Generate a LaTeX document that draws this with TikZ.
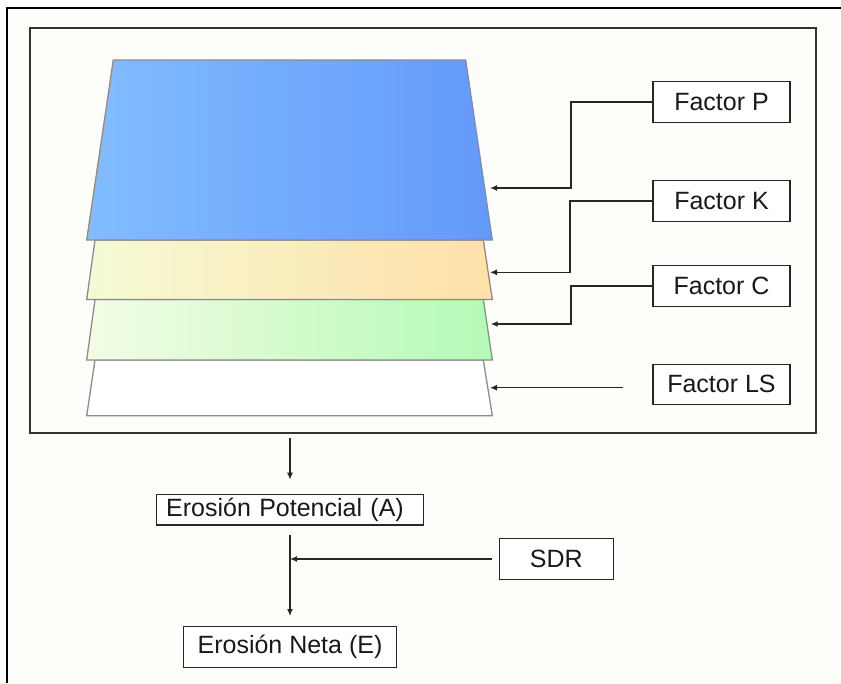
\documentclass[tikz,border=0pt]{standalone}
\usepackage{fontspec}
\setmainfont{Liberation Sans}
\usetikzlibrary{arrows.meta}
\definecolor{cream}{RGB}{253,253,249}
\definecolor{blueL}{RGB}{130,188,255}
\definecolor{blueR}{RGB}{100,153,250}
\definecolor{orangeL}{RGB}{245,250,212}
\definecolor{orangeR}{RGB}{255,224,168}
\definecolor{greenL}{RGB}{243,252,228}
\definecolor{greenR}{RGB}{180,250,182}

\begin{document}
\begin{tikzpicture}[x=1pt,y=-1pt,
    factor/.style={draw=black!85,line width=1.3pt,fill=white,text=black!90,
      font=\fontsize{25}{28}\selectfont,inner sep=0pt},
    layer/.style={draw=black!45,line width=1.3pt},
    conn/.style={draw=black!85,line width=1.3pt,-{Latex[length=7pt,width=6pt]}}]
    \useasboundingbox (0,0) rectangle (841,683);
    \fill[cream] (7,7.5) rectangle (841,683);
    \draw[line width=2pt] (841,7.5) -- (7,7.5) -- (7,683);

    %Frame round the stack
    \node[draw=black!80,line width=1.5pt,minimum width=786pt,minimum height=405pt,inner sep=0pt]
      (stack) at (423,230.5) {};

    %Layers, bottom first
    \path[layer,fill=white] (86.7,415.7) -- (95,360) -- (483.3,360) -- (492.3,415.7) -- cycle;
    \path[layer,left color=greenL,right color=greenR] (86.7,360) -- (95,299.5) -- (483.3,299.5) -- (492.3,360) -- cycle;
    \path[layer,left color=orangeL,right color=orangeR] (86.7,299.5) -- (95,240) -- (483.3,240) -- (492.3,299.5) -- cycle;
    \path[layer,left color=blueL,right color=blueR] (86.7,240) -- (113.3,60) -- (465.7,60) -- (492.3,240) -- cycle;

    \coordinate (pIn) at (490,188);
    \coordinate (kIn) at (490,272.3);
    \coordinate (cIn) at (490.7,324);
    \coordinate (lsIn) at (490,387.7);

    %Factors
    \node[factor,minimum width=137pt,minimum height=40.5pt] (fp) at (721.5,102) {Factor P};
    \node[factor,minimum width=137pt,minimum height=40.5pt] (fk) at (721.5,201) {Factor K};
    \node[factor,minimum width=137pt,minimum height=40.5pt] (fc) at (721.5,286) {Factor C};
    \node[factor,minimum width=137pt,minimum height=40pt] (fls) at (721.5,384.2) {Factor LS};

    \draw[conn] (fp.west) -- (571,102) |- (pIn);
    \draw[conn] (fk.west) -- (570,201) |- (kIn);
    \draw[conn] (fc.west) -- (571,286) |- (cIn);
    \draw[conn] ([xshift=-29pt]fls.west |- lsIn) -- (lsIn);

    %Results
    \node[factor,minimum width=267.6pt,minimum height=30.7pt,inner xsep=10pt,
      text width=247.6pt,align=left] (ep) at (290,509.7) {Erosión Potencial (A)};
    \node[factor,minimum width=114pt,minimum height=41pt] (sdr) at (556.3,559) {SDR};
    \node[factor,minimum width=212.4pt,minimum height=40.6pt] (en) at (290,647) {Erosión Neta (E)};

    \draw[conn,shorten <=4pt,shorten >=14pt] (ep.north |- stack.south) -- (ep.north);
    \draw[conn,shorten <=9pt,shorten >=10pt] (ep.south) -- (en.north);
    \draw[conn,shorten <=6.6pt] (sdr.west) -- (ep.south |- sdr.west);
\end{tikzpicture}
\end{document}
